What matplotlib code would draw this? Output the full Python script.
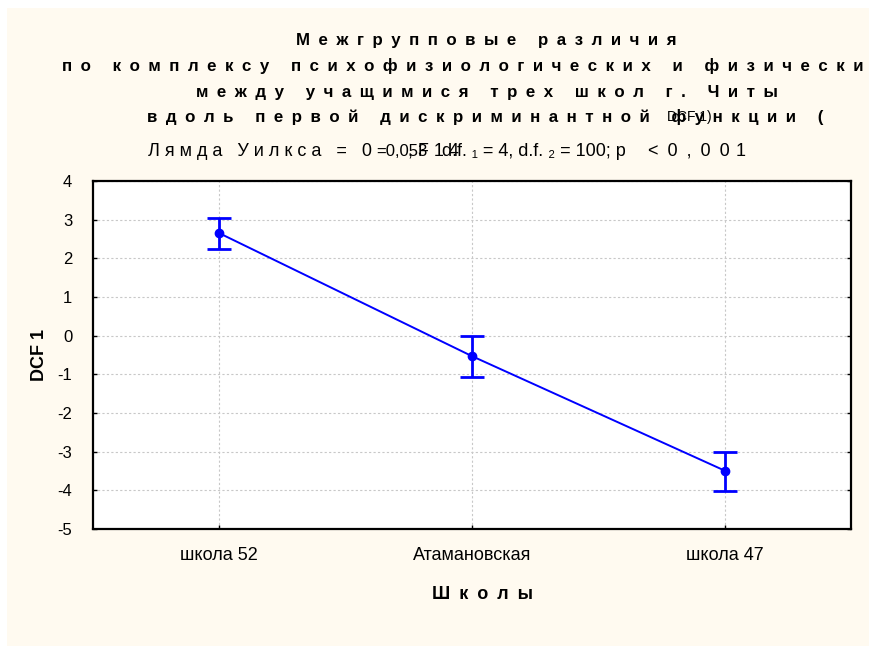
import matplotlib
matplotlib.use("Agg")
import matplotlib.pyplot as plt
from matplotlib import font_manager
from matplotlib.patches import Rectangle

# ── Data ───────────────────────────────────────────────────────────────
schools = ["школа 52", "Атамановская", "школа 47"]
means = [2.65, -0.53, -3.49]
upper = [3.04, -0.01, -3.01]
lower = [2.24, -1.07, -4.02]
yticks = [4, 3, 2, 1, 0, -1, -2, -3, -4, -5]

title_lines = [
    "Межгрупповые различия",
    "по комплексу психофизиологических и физически",
    "между учащимися трех школ г. Читы",
    "вдоль первой дискриминантной функции (",
]

W, H = 869, 646
names = {f.name for f in font_manager.fontManager.ttflist}
MAIN = ["Liberation Sans", "DejaVu Sans"]
NARROW = ["Liberation Sans Narrow", "Liberation Sans", "DejaVu Sans"] \
    if "Liberation Sans Narrow" in names else ["Liberation Sans", "DejaVu Sans"]

EN = "\u2002"   # en space, used as letter tracking


def spaced(s, gap=EN):
    return gap.join(s)


def px(x, y):
    return x / W, 1 - y / H


fig = plt.figure(figsize=(W / 100, H / 100), dpi=100, facecolor="white")
fig.patches.append(Rectangle((7 / W, 0), 1, 1 - 8 / H, transform=fig.transFigure,
                             facecolor="#FFFAF0", edgecolor="none", zorder=-10))

ax = fig.add_axes([93 / W, 1 - 529 / H, (851 - 93) / W, (529 - 181) / H])
ax.set_facecolor("white")

x = list(range(len(schools)))
yerr = [[m - lo for m, lo in zip(means, lower)], [up - m for m, up in zip(means, upper)]]
ax.errorbar(x, means, yerr=yerr, color="#0000FF", lw=1.4, marker="o", ms=6,
            elinewidth=2, capsize=8.5, capthick=2, zorder=3)

ax.set_xlim(-0.5, 2.5)
ax.set_ylim(-5, 4)
ax.set_xticks(x)
ax.set_xticklabels(schools, family=MAIN, fontsize=13)
ax.set_yticks(yticks)
ax.set_yticklabels([str(v) for v in yticks], family=MAIN, fontsize=12)
ax.tick_params(direction="in", length=3, width=1, right=True, top=False,
               labelright=False)
ax.tick_params(axis="x", pad=13)
ax.tick_params(axis="y", pad=15)
ax.grid(True, color="#C8C8C8", lw=0.8, ls=(0, (2, 2)))
for s in ax.spines.values():
    s.set_linewidth(1.6)
    s.set_color("black")

# ── Titles ─────────────────────────────────────────────────────────────
tkw = dict(family=MAIN, fontsize=12.15, fontweight="bold", va="baseline")
fig.text(*px(486, 45), spaced(title_lines[0]), ha="center", **tkw)
fig.text(*px(62, 71), spaced(title_lines[1]), ha="left", **tkw)
fig.text(*px(487, 97), spaced(title_lines[2]), ha="center", **tkw)
fig.text(*px(147, 122), spaced(title_lines[3]), ha="left", **tkw)
fig.text(*px(667, 121), "DCF 1)", ha="left", family=NARROW, fontsize=10,
         va="baseline")

# Wilks lambda line (overlapping pieces, as in the original)
lkw = dict(fontsize=13, va="baseline", ha="left")
fig.text(*px(148, 156), spaced("Лямда Уилкса = 0", " "), family=MAIN, **lkw)
fig.text(*px(376, 156), "=0,053", family=NARROW, fontsize=12, va="baseline", ha="left")
fig.text(*px(408, 156), spaced(",F14", " "), family=MAIN, **lkw)
fig.text(*px(442, 156), "d.f. ₁ = 4, d.f. ₂ = 100; p", family=NARROW, **lkw)
fig.text(*px(648, 156), spaced("<0,00"), family=MAIN, **lkw)
fig.text(*px(736, 156), "1", family=NARROW, **lkw)

# ── Axis labels ────────────────────────────────────────────────────────
fig.text(*px(483, 599), spaced("Школы"), ha="center", va="baseline",
         family=MAIN, fontsize=13, fontweight="bold")
fig.text(*px(40, 355), "DCF 1", ha="center", va="center", rotation=90,
         family=MAIN, fontsize=13, fontweight="bold")

fig.savefig("out.png", dpi=100, facecolor=fig.get_facecolor())
